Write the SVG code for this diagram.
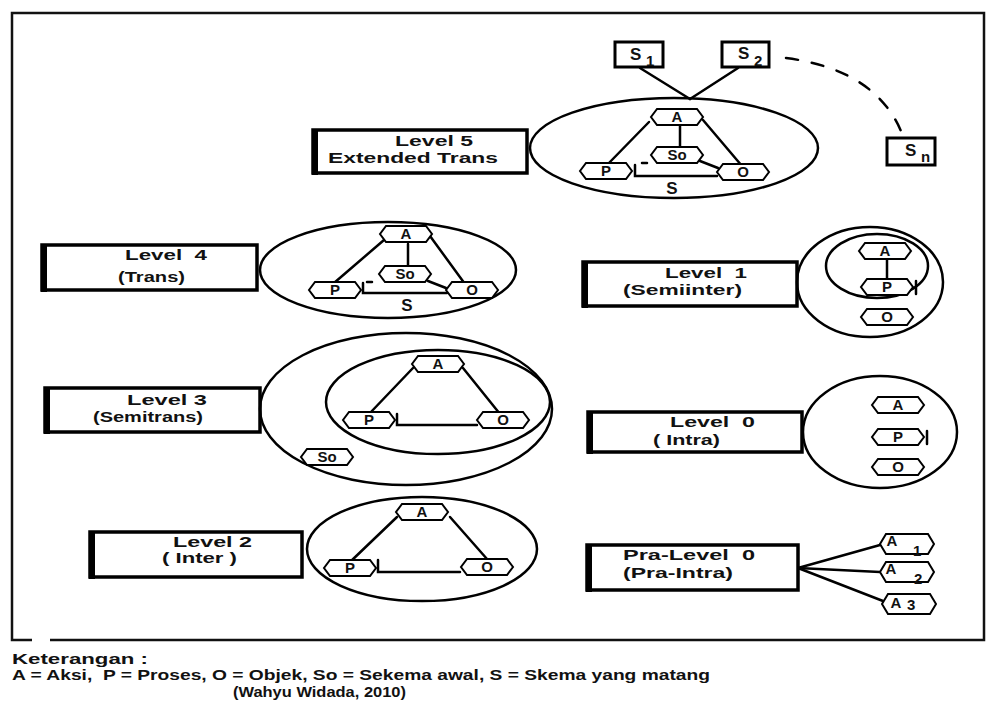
<svg xmlns="http://www.w3.org/2000/svg" xmlns:xlink="http://www.w3.org/1999/xlink" width="992" height="706" viewBox="0 0 992 706">
  <style>
    .frame { fill: none; stroke: #111; stroke-width: 2.5; }
    .box { fill: #fff; stroke: #000; stroke-width: 3.5; }
    .boxedge { stroke: #000; stroke-width: 6; }
    .ov { fill: none; stroke: #000; stroke-width: 2.5; }
    .ln { fill: none; stroke: #000; stroke-width: 2.5; stroke-linecap: round; }
    .hx { fill: #fff; stroke: #000; stroke-width: 2; }
    .sb { fill: #fff; stroke: #000; stroke-width: 3; }
    .lbl { font-family: "Liberation Sans", Arial, sans-serif; font-weight: bold; font-size: 15px; fill: #111; white-space: pre; }
    .ht { font-family: "Liberation Sans", Arial, sans-serif; font-weight: bold; font-size: 15px; fill: #111; text-anchor: middle; }
    .st { font-family: "Liberation Sans", Arial, sans-serif; font-weight: bold; font-size: 17px; fill: #111; }
    .sub { font-family: "Liberation Sans", Arial, sans-serif; font-weight: bold; font-size: 15px; fill: #111; }
    .leg { font-family: "Liberation Sans", Arial, sans-serif; font-weight: bold; font-size: 15px; fill: #111; white-space: pre; }
  </style>
  <defs>
    <polygon id="hex" points="-20,-8 20,-8 26,0 20,8 -20,8 -26,0"/>
    <polygon id="hexT" points="-21,-10 21,-10 27,0 21,10 -21,10 -27,0"/>
  </defs>

  <rect width="992" height="706" fill="#fff"/>

  <!-- outer frame, with a small break at the bottom left -->
  <path class="frame" d="M32,640 H12 V13 H984 V640 H50"/>

  <!-- connectors: links from S1, S2 and the dashed path to Sn -->
  <g id="connectors">
    <line class="ln" x1="640" y1="68" x2="690" y2="99"/>
    <line class="ln" x1="738" y1="68" x2="690" y2="99"/>
    <path class="ln" d="M786,58 Q878,70 903,136" stroke-dasharray="12,14"/>
    <!-- Pra-Level 0 fan-out -->
    <line class="ln" x1="798" y1="568" x2="880" y2="545"/>
    <line class="ln" x1="798" y1="568" x2="880" y2="572"/>
    <line class="ln" x1="798" y1="568" x2="883" y2="601"/>
  </g>

  <!-- S boxes -->
  <g id="s1">
    <rect class="sb" x="615" y="42" width="48" height="25"/>
    <text class="st" x="630" y="60">S</text><text class="sub" x="646" y="66">1</text>
  </g>
  <g id="s2">
    <rect class="sb" x="722" y="42" width="47" height="25"/>
    <text class="st" x="738" y="59">S</text><text class="sub" x="754" y="66">2</text>
  </g>
  <g id="sn">
    <rect class="sb" x="887" y="138" width="48" height="27"/>
    <text class="st" x="905" y="156">S</text><text class="sub" x="921" y="162">n</text>
  </g>

  <!-- Level 5 -->
  <g id="level5">
    <rect class="box" x="313" y="130" width="214" height="43"/>
    <line class="boxedge" x1="315" y1="129" x2="315" y2="175"/>
    <text class="lbl" x="395" y="146" textLength="78" lengthAdjust="spacingAndGlyphs">Level 5</text>
    <text class="lbl" x="328" y="163" textLength="170" lengthAdjust="spacingAndGlyphs">Extended Trans</text>
    <ellipse class="ov" cx="674" cy="148" rx="144" ry="50"/>
    <line class="ln" x1="649" y1="122" x2="607" y2="165"/>
    <line class="ln" x1="703" y1="120" x2="742" y2="166"/>
    <line class="ln" x1="680" y1="126" x2="680" y2="147"/>
    <line class="ln" x1="700" y1="161" x2="718" y2="168"/>
    <path class="ln" d="M635,165 V176 H717"/>
    <line class="ln" x1="642" y1="163" x2="647" y2="163"/>
    <use xlink:href="#hex" class="hx" x="677" y="117"/>
    <use xlink:href="#hex" class="hx" x="677" y="155"/>
    <use xlink:href="#hex" class="hx" x="606" y="171"/>
    <use xlink:href="#hex" class="hx" x="743" y="172"/>
    <text class="ht" x="677" y="122">A</text>
    <text class="ht" x="677" y="160">So</text>
    <text class="ht" x="606" y="176">P</text>
    <text class="ht" x="743" y="177">O</text>
    <text class="st" x="672" y="194" text-anchor="middle">S</text>
  </g>

  <!-- Level 4 -->
  <g id="level4">
    <rect class="box" x="42" y="245" width="215" height="45"/>
    <line class="boxedge" x1="44" y1="244" x2="44" y2="292"/>
    <text class="lbl" x="125" y="260" textLength="82" lengthAdjust="spacingAndGlyphs">Level  4</text>
    <text class="lbl" x="118" y="282" textLength="67" lengthAdjust="spacingAndGlyphs">(Trans)</text>
    <ellipse class="ov" cx="388" cy="270" rx="128" ry="48"/>
    <line class="ln" x1="384" y1="240" x2="334" y2="283"/>
    <line class="ln" x1="430" y1="236" x2="465" y2="284"/>
    <line class="ln" x1="408" y1="244" x2="408" y2="266"/>
    <line class="ln" x1="428" y1="281" x2="446" y2="288"/>
    <path class="ln" d="M363,283 V293 H447"/>
    <line class="ln" x1="367" y1="282" x2="372" y2="282"/>
    <use xlink:href="#hex" class="hx" x="406" y="234"/>
    <use xlink:href="#hex" class="hx" x="405" y="274"/>
    <use xlink:href="#hex" class="hx" x="335" y="290"/>
    <use xlink:href="#hex" class="hx" x="472" y="290"/>
    <text class="ht" x="406" y="239">A</text>
    <text class="ht" x="405" y="279">So</text>
    <text class="ht" x="335" y="295">P</text>
    <text class="ht" x="472" y="295">O</text>
    <text class="st" x="407" y="311" text-anchor="middle">S</text>
  </g>

  <!-- Level 1 -->
  <g id="level1">
    <rect class="box" x="583" y="262" width="214" height="44"/>
    <line class="boxedge" x1="585" y1="261" x2="585" y2="308"/>
    <text class="lbl" x="665" y="278" textLength="82" lengthAdjust="spacingAndGlyphs">Level  1</text>
    <text class="lbl" x="623" y="295" textLength="119" lengthAdjust="spacingAndGlyphs">(Semiinter)</text>
    <ellipse class="ov" cx="870" cy="282" rx="73" ry="55"/>
    <ellipse class="ov" cx="877" cy="266" rx="51" ry="32"/>
    <line class="ln" x1="887" y1="258" x2="887" y2="280"/>
    <line class="ln" x1="916" y1="281" x2="916" y2="294"/>
    <use xlink:href="#hex" class="hx" x="885" y="251"/>
    <use xlink:href="#hex" class="hx" x="887" y="287"/>
    <use xlink:href="#hex" class="hx" x="887" y="317"/>
    <text class="ht" x="885" y="256">A</text>
    <text class="ht" x="887" y="292">P</text>
    <text class="ht" x="887" y="322">O</text>
  </g>

  <!-- Level 3 -->
  <g id="level3">
    <rect class="box" x="45" y="388" width="215" height="44"/>
    <line class="boxedge" x1="47" y1="387" x2="47" y2="434"/>
    <text class="lbl" x="127" y="405" textLength="80" lengthAdjust="spacingAndGlyphs">Level 3</text>
    <text class="lbl" x="93" y="422" textLength="110" lengthAdjust="spacingAndGlyphs">(Semitrans)</text>
    <ellipse class="ov" cx="406" cy="409" rx="146" ry="76"/>
    <ellipse class="ov" cx="438" cy="402" rx="112" ry="52"/>
    <line class="ln" x1="413" y1="368" x2="370" y2="413"/>
    <line class="ln" x1="463" y1="368" x2="500" y2="414"/>
    <path class="ln" d="M397,414 V425 H477"/>
    <use xlink:href="#hex" class="hx" x="438" y="364"/>
    <use xlink:href="#hex" class="hx" x="369" y="420"/>
    <use xlink:href="#hex" class="hx" x="503" y="420"/>
    <use xlink:href="#hex" class="hx" x="327" y="457"/>
    <text class="ht" x="438" y="369">A</text>
    <text class="ht" x="369" y="425">P</text>
    <text class="ht" x="503" y="425">O</text>
    <text class="ht" x="327" y="462">So</text>
  </g>

  <!-- Level 0 -->
  <g id="level0">
    <rect class="box" x="588" y="412" width="214" height="40"/>
    <line class="boxedge" x1="590" y1="411" x2="590" y2="454"/>
    <text class="lbl" x="670" y="427" textLength="85" lengthAdjust="spacingAndGlyphs">Level  0</text>
    <text class="lbl" x="653" y="445" textLength="67" lengthAdjust="spacingAndGlyphs">( Intra)</text>
    <ellipse class="ov" cx="880" cy="432" rx="77" ry="56"/>
    <line class="ln" x1="927" y1="431" x2="927" y2="444"/>
    <use xlink:href="#hex" class="hx" x="898" y="405"/>
    <use xlink:href="#hex" class="hx" x="898" y="437"/>
    <use xlink:href="#hex" class="hx" x="898" y="467"/>
    <text class="ht" x="898" y="410">A</text>
    <text class="ht" x="898" y="442">P</text>
    <text class="ht" x="898" y="472">O</text>
  </g>

  <!-- Level 2 -->
  <g id="level2">
    <rect class="box" x="90" y="532" width="212" height="45"/>
    <line class="boxedge" x1="92" y1="531" x2="92" y2="579"/>
    <text class="lbl" x="173" y="547" textLength="79" lengthAdjust="spacingAndGlyphs">Level 2</text>
    <text class="lbl" x="162" y="563" textLength="75" lengthAdjust="spacingAndGlyphs">( Inter )</text>
    <ellipse class="ov" cx="422" cy="549" rx="115" ry="52"/>
    <line class="ln" x1="397" y1="517" x2="350" y2="562"/>
    <line class="ln" x1="450" y1="517" x2="487" y2="559"/>
    <path class="ln" d="M378,560 V572 H460"/>
    <use xlink:href="#hex" class="hx" x="422" y="512"/>
    <use xlink:href="#hex" class="hx" x="350" y="568"/>
    <use xlink:href="#hex" class="hx" x="487" y="567"/>
    <text class="ht" x="422" y="517">A</text>
    <text class="ht" x="350" y="573">P</text>
    <text class="ht" x="487" y="572">O</text>
  </g>

  <!-- Pra-Level 0 -->
  <g id="pralevel0">
    <rect class="box" x="587" y="545" width="211" height="45"/>
    <line class="boxedge" x1="589" y1="544" x2="589" y2="592"/>
    <text class="lbl" x="623" y="560" textLength="132" lengthAdjust="spacingAndGlyphs">Pra-Level  0</text>
    <text class="lbl" x="623" y="578" textLength="110" lengthAdjust="spacingAndGlyphs">(Pra-Intra)</text>
  </g>
  <g id="a1">
    <use xlink:href="#hexT" class="hx" x="907" y="544"/>
    <text class="ht" x="892" y="546">A</text><text class="sub" x="913" y="556">1</text>
  </g>
  <g id="a2">
    <use xlink:href="#hexT" class="hx" x="907" y="572"/>
    <text class="ht" x="891" y="574">A</text><text class="sub" x="914" y="584">2</text>
  </g>
  <g id="a3">
    <use xlink:href="#hexT" class="hx" x="909" y="604"/>
    <text class="ht" x="896" y="608">A</text><text class="sub" x="907" y="610">3</text>
  </g>

  <!-- legend -->
  <g id="legend">
    <text class="leg" x="12" y="664" textLength="136" lengthAdjust="spacingAndGlyphs">Keterangan :</text>
    <text class="leg" x="12" y="680" textLength="698" lengthAdjust="spacingAndGlyphs">A = Aksi,  P = Proses, O = Objek, So = Sekema awal, S = Skema yang matang</text>
    <text class="leg" x="233" y="697" textLength="173" lengthAdjust="spacingAndGlyphs">(Wahyu Widada, 2010)</text>
  </g>
</svg>
